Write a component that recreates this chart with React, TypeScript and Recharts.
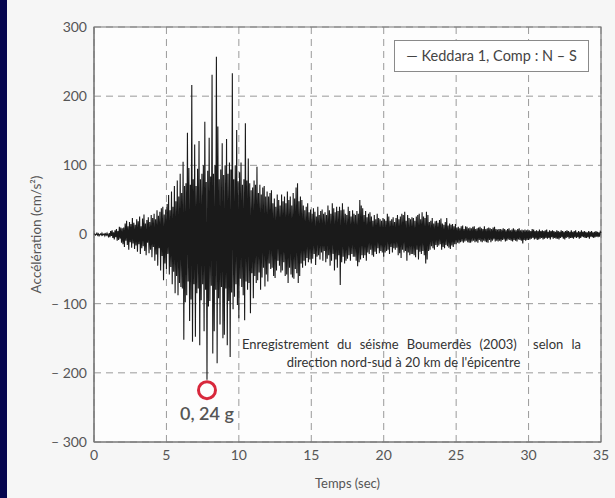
import {
  LineChart,
  Line,
  XAxis,
  YAxis,
  CartesianGrid,
  ReferenceArea,
  ReferenceDot,
  Legend,
} from 'recharts';

// acceleration record, one value every 0.05 s (one row = one second)
const SAMPLE_STEP = 0.05;
const accel: number[] = [
  0, 1, -1, 0, 2, -1, 1, -2, 0, 1, -1, 2, -1, 0, 1, -2, 1, -1, 2, -1,
  -3, 2, -4, 5, -2, 6, -5, 3, -7, 6, -4, 8, -9, 5, -8, 11, -6, 10, -12, 9,
  -14, 10, -18, 16, -9, 20, -15, 12, -22, 18, -11, 15, -19, 24, -13, 17, -21, 14, -16, 22,
  -25, 19, -14, 26, -28, 12, -20, 23, -17, 29, -24, 16, -30, 21, -12, 25, -27, 18, -22, 28,
  -33, 24, -18, 30, -38, 22, -29, 35, -45, 27, -20, 33, -52, 38, -31, 40, -66, 29, -42, 36,
  -50, 44, -28, 57, -58, 35, -47, 62, -72, 40, -54, 70, -85, 48, -60, 78, -88, 55, -70, 88,
  -76, 60, -78, 105, -152, 70, -98, 74, -88, 147, -68, 96, -125, 72, -94, 216, -155, 80, -72, 130,
  -148, 70, -85, 95, -78, 135, -160, 80, -95, 88, -72, 100, -140, 163, -80, 76, -210, 92, -104, 140,
  -96, 84, -74, 231, -172, 88, -140, 100, -80, 257, -186, 156, -92, 80, -130, 94, -76, 132, -150, 86,
  -145, 100, -78, 138, -160, 88, -96, 104, -177, 94, -84, 233, -108, 80, -90, 100, -72, 151, -102, 77,
  -121, 90, -64, 104, -76, 72, -88, 80, -124, 161, -68, 78, -80, 110, -70, 74, -114, 64, -56, 68,
  -92, 78, -60, 72, -70, 98, -66, 60, -55, 72, -80, 58, -62, 68, -48, 70, -75, 55, -58, 62,
  -68, 55, -42, 60, -50, 64, -48, 45, -60, 52, -63, 40, -52, 58, -38, 50, -45, 42, -55, 58,
  -52, 48, -40, 55, -60, 45, -58, 62, -70, 50, -48, 55, -58, 42, -62, 60, -64, 52, -50, 68,
  -56, 74, -70, 48, -60, 55, -42, 50, -48, 42, -38, 35, -45, 40, -34, 45, -40, 32, -36, 36,
  -42, 30, -35, 38, -28, 33, -44, 26, -32, 40, -30, 28, -36, 34, -26, 36, -38, 30, -24, 32,
  -40, 28, -35, 42, -30, 35, -45, 30, -38, 45, -28, 38, -52, 32, -36, 40, -48, 34, -30, 40,
  -73, 35, -40, 45, -32, 36, -42, 30, -38, 28, -35, 40, -30, 34, -38, 26, -28, 35, -32, 30,
  -32, 28, -38, 34, -46, 30, -40, 50, -36, 42, -30, 38, -34, 28, -30, 34, -38, 25, -26, 30,
  -28, 32, -22, 26, -30, 20, -32, 28, -25, 22, -28, 30, -20, 24, -27, 22, -24, 20, -26, 24,
  -32, 22, -26, 20, -24, 30, -22, 26, -28, 20, -18, 22, -26, 25, -20, 18, -22, 24, -19, 28,
  -30, 22, -27, 26, -34, 30, -22, 28, -26, 33, -24, 20, -38, 28, -26, 24, -30, 22, -28, 25,
  -28, 24, -30, 20, -33, 26, -22, 28, -36, 30, -25, 22, -28, 32, -24, 26, -30, 24, -42, 33,
  -36, 28, -24, 18, -22, 20, -17, 24, -20, 16, -22, 19, -15, 20, -18, 17, -16, 21, -14, 23,
  -22, 16, -18, 14, -20, 18, -15, 24, -17, 13, -19, 16, -21, 14, -16, 15, -18, 12, -14, 15,
  -14, 10, -12, 11, -13, 9, -11, 12, -10, 13, -12, 8, -10, 12, -9, 11, -11, 9, -12, 10,
  -12, 9, -10, 11, -9, 12, -11, 8, -10, 9, -12, 10, -8, 11, -10, 9, -11, 8, -9, 12,
  -10, 8, -11, 9, -12, 10, -8, 9, -11, 8, -9, 10, -7, 11, -10, 8, -9, 7, -10, 8,
  -9, 8, -10, 7, -8, 9, -7, 8, -10, 6, -9, 8, -7, 9, -8, 6, -9, 7, -10, 9,
  -8, 7, -9, 6, -10, 8, -7, 9, -8, 6, -9, 7, -13, 6, -8, 7, -9, 6, -8, 7,
  -8, 6, -7, 5, -6, 8, -5, 7, -7, 5, -6, 6, -8, 5, -7, 7, -6, 5, -5, 6,
  -7, 5, -6, 6, -5, 7, -6, 4, -5, 6, -7, 5, -4, 6, -6, 5, -5, 4, -6, 6,
  -6, 5, -7, 4, -5, 6, -4, 5, -6, 4, -7, 5, -5, 6, -4, 5, -6, 4, -5, 6,
  -5, 4, -6, 5, -4, 6, -5, 3, -4, 5, -6, 4, -5, 6, -3, 4, -4, 5, -5, 4,
  -5, 3, -4, 5, -6, 4, -3, 5, -4, 3, -5, 4, -4, 5, -3, 4, -4, 3, -3, 4,
  2,
];

const xTicks = [0, 5, 10, 15, 20, 25, 30, 35];
const yTicks = [-300, -200, -100, 0, 100, 200, 300];

const seriesName = 'Keddara 1, Comp : N – S';
const peakTime = 7.8;
const peakMark = -225;
const peakLabel = '0, 24 g';

const data = accel.map((a, i) => ({ t: Math.round(i * SAMPLE_STEP * 100) / 100, acc: a }));

const font = 'Lato, "Open Sans", sans-serif';
const tickStyle = { fill: '#555', fontSize: 14, fontFamily: font };

const fmtY = (v: number) => (v < 0 ? `– ${-v}` : `${v}`);

export default function App() {
  return (
    <div
      style={{
        position: 'fixed',
        left: 0,
        top: 0,
        width: 615,
        height: 498,
        background: '#f6f6f6',
        overflow: 'hidden',
        fontFamily: font,
      }}
    >
      <style>{'html, body { margin: 0; background: #f6f6f6; }'}</style>
      <LineChart
        width={615}
        height={498}
        data={data}
        margin={{ top: 27, right: 14, bottom: 0, left: 0 }}
      >
        <CartesianGrid stroke="#9a9a9a" strokeDasharray="7 5" fill="#fdfdfd" />
        <XAxis
          type="number"
          dataKey="t"
          domain={[0, 35]}
          ticks={xTicks}
          tickLine={false}
          tickSize={0}
          tickMargin={8}
          axisLine={{ stroke: '#777' }}
          tick={tickStyle}
          height={56}
          label={{ value: 'Temps (sec)', position: 'insideBottom', offset: 10, fill: '#555', fontSize: 13, fontFamily: font }}
        />
        <YAxis
          type="number"
          domain={[-300, 300]}
          ticks={yTicks}
          tickFormatter={fmtY}
          tickLine={false}
          tickSize={0}
          tickMargin={7}
          axisLine={{ stroke: '#777' }}
          tick={tickStyle}
          width={94}
          label={{
            value: 'Accélération (cm/s²)',
            angle: -90,
            position: 'insideLeft',
            offset: 36,
            fill: '#555',
            fontSize: 13.5,
            fontFamily: font,
            style: { textAnchor: 'middle' },
          }}
        />
        <ReferenceArea x1={0} x2={35} y1={-300} y2={300} fill="none" stroke="#777" strokeWidth={1.2} />
        <Line
          type="linear"
          dataKey="acc"
          name={seriesName}
          stroke="#1a1a1a"
          strokeWidth={1.1}
          dot={false}
          isAnimationActive={false}
        />
        <ReferenceDot
          x={peakTime}
          y={peakMark}
          r={8.5}
          fill="none"
          stroke="#d8283c"
          strokeWidth={3}
          label={{ value: peakLabel, position: 'bottom', offset: 9, fill: '#555', fontSize: 18, fontWeight: 600, fontFamily: font }}
        />
        <Legend
          layout="horizontal"
          verticalAlign="middle"
          align="center"
          wrapperStyle={{ top: 40, left: 394, width: 195, height: 32 }}
          content={() => (
            <div
              style={{
                boxSizing: 'border-box',
                border: '1px solid #8a8a8a',
                background: '#fff',
                height: 32,
                lineHeight: '30px',
                textAlign: 'center',
                fontSize: 14.5,
                color: '#444',
                fontFamily: font,
                whiteSpace: 'nowrap',
              }}
            >
              — {seriesName}
            </div>
          )}
        />
      </LineChart>
      {/* navy frame strip on the left */}
      <div style={{ position: 'absolute', left: 0, top: 0, width: 7, height: 498, background: '#06064f' }} />
      {/* caption inside the plot */}
      <div
        style={{
          position: 'absolute',
          left: 242,
          top: 336,
          width: 339,
          fontSize: 13,
          color: '#333',
          whiteSpace: 'nowrap',
          textAlign: 'justify',
          textAlignLast: 'justify',
        }}
      >
        Enregistrement du séisme Boumerdès (2003) &nbsp;selon la
      </div>
      <div
        style={{
          position: 'absolute',
          left: 265,
          top: 354,
          width: 277,
          fontSize: 13,
          color: '#333',
          whiteSpace: 'nowrap',
          textAlign: 'center',
        }}
      >
        direction nord-sud à 20 km de l'épicentre
      </div>
    </div>
  );
}
